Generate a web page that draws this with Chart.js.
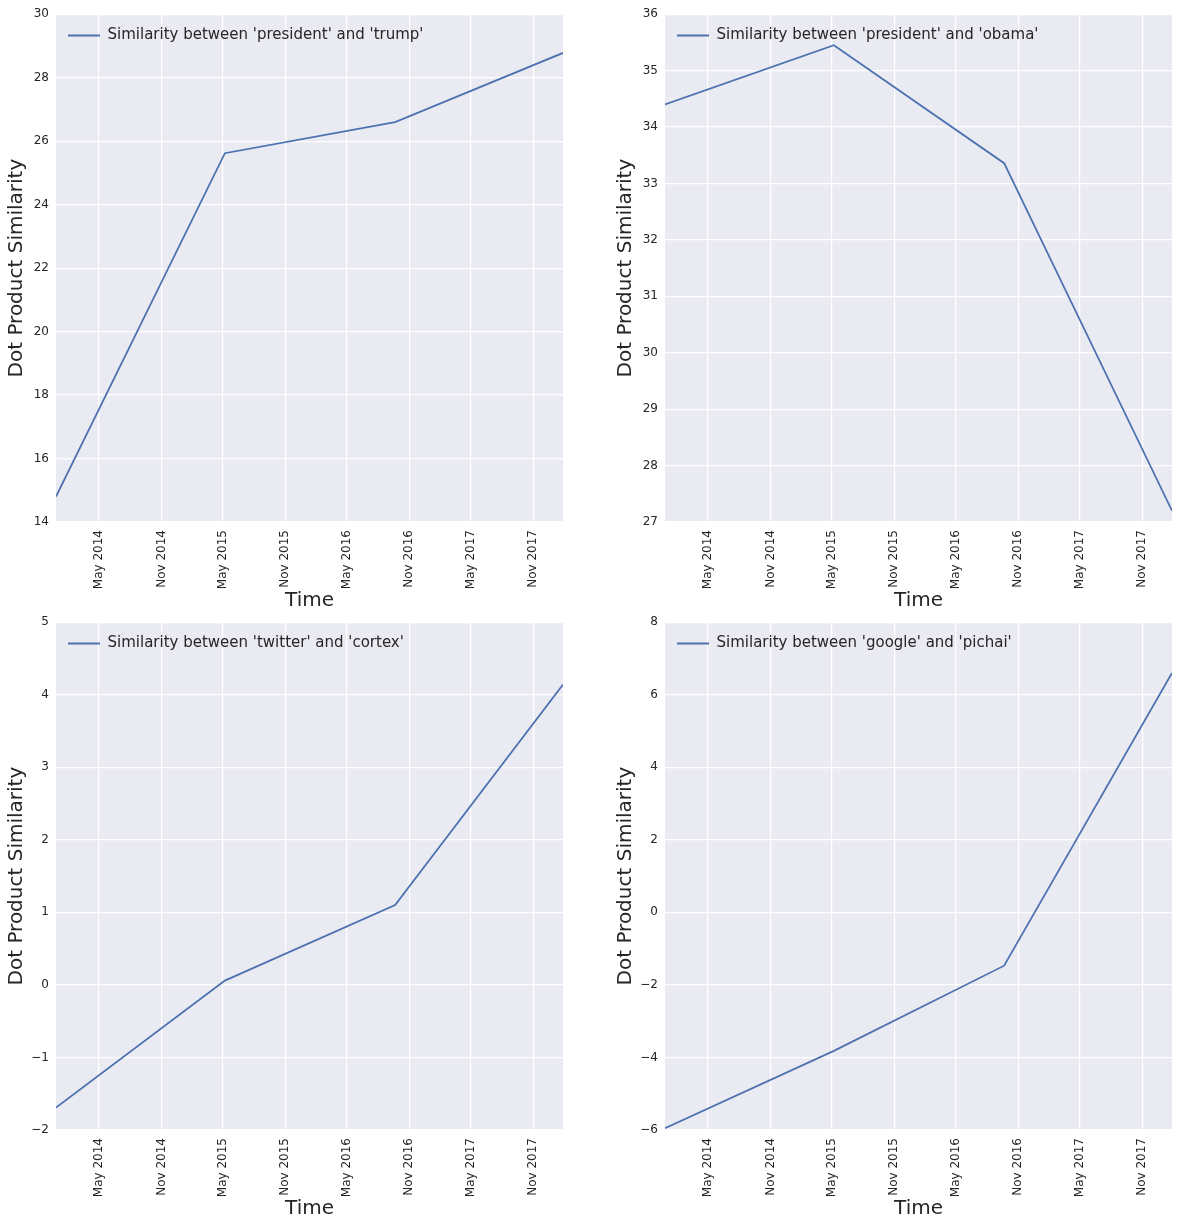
<!DOCTYPE html>
<html>
<head>
<meta charset="utf-8">
<script src="https://cdn.jsdelivr.net/npm/chart.js@4/dist/chart.umd.min.js"></script>
<style>
  html, body { margin: 0; padding: 0; background: #fff; overflow: hidden; }
  .panel { position: absolute; width: 570px; height: 612px; }
</style>
</head>
<body>
<div class="panel" style="left:0;top:0"><canvas id="c1"></canvas></div>
<div class="panel" style="left:609px;top:0"><canvas id="c2"></canvas></div>
<div class="panel" style="left:0;top:608px"><canvas id="c3"></canvas></div>
<div class="panel" style="left:609px;top:608px"><canvas id="c4"></canvas></div>
<script>
// sample dates (one point per period)
const dates = ['2013-12-25', '2015-05-07', '2016-09-20', '2018-01-28'];

const trumpValues  = [14.8, 25.62, 26.6, 28.78];
const obamaValues  = [34.4, 35.45, 33.36, 27.2];
const cortexValues = [-1.69, 0.06, 1.1, 4.14];
const pichaiValues = [-5.95, -3.82, -1.47, 6.6];

const tickDates  = ['2014-05-01', '2014-11-01', '2015-05-01', '2015-11-01',
                    '2016-05-01', '2016-11-01', '2017-05-01', '2017-11-01'];
const tickLabels = ['May 2014', 'Nov 2014', 'May 2015', 'Nov 2015',
                    'May 2016', 'Nov 2016', 'May 2017', 'Nov 2017'];

const toMs = d => Date.parse(d + 'T00:00:00Z');
const xs = dates.map(toMs);
const tickMs = tickDates.map(toMs);

const FONT = "'DejaVu Sans', sans-serif";
const TEXT = '#262626';

// seaborn darkgrid face
const bgPlugin = {
  id: 'bg',
  beforeDraw(chart) {
    const a = chart.chartArea, ctx = chart.ctx;
    ctx.save();
    ctx.fillStyle = '#EAEAF2';
    ctx.fillRect(a.left, a.top, a.right - a.left, a.bottom - a.top);
    ctx.restore();
  }
};

// push the in-axes legend down a bit, like matplotlib's upper left
const legendShift = {
  id: 'legendShift',
  afterLayout(chart) {
    const l = chart.legend;
    if (l) { l.top += 16; l.bottom += 16; }
  }
};

function makeChart(id, label, values, yMin, yMax, yStep) {
  new Chart(document.getElementById(id), {
    type: 'line',
    data: {
      datasets: [{
        label: label,
        data: xs.map((x, i) => ({ x: x, y: values[i] })),
        borderColor: '#4C72B0',
        backgroundColor: '#4C72B0',
        borderWidth: 1.8,
        pointRadius: 0,
        tension: 0
      }]
    },
    options: {
      responsive: true,
      maintainAspectRatio: false,
      animation: false,
      layout: { padding: { top: 14, right: 7, left: 0, bottom: 0 } },
      plugins: {
        tooltip: { enabled: false },
        legend: {
          position: 'chartArea',
          align: 'start',
          labels: {
            usePointStyle: true,
            pointStyle: 'line',
            pointStyleWidth: 32,
            padding: 12,
            color: TEXT,
            font: { family: FONT, size: 15 }
          }
        }
      },
      scales: {
        x: {
          type: 'linear',
          min: xs[0],
          max: xs[xs.length - 1],
          afterBuildTicks(scale) {
            scale.ticks = tickMs.map(v => ({ value: v }));
          },
          afterFit(scale) { scale.height = 90; },
          ticks: {
            autoSkip: false,
            minRotation: 90,
            maxRotation: 90,
            padding: 8,
            color: TEXT,
            font: { family: FONT, size: 12 },
            callback: function(value) {
              const i = tickMs.indexOf(value);
              return i >= 0 ? tickLabels[i] : '';
            }
          },
          grid: { color: '#ffffff', lineWidth: 1.2, drawTicks: false },
          border: { display: false },
          title: {
            display: true,
            text: 'Time',
            color: TEXT,
            font: { family: FONT, size: 20 },
            padding: { top: 0, bottom: -1 }
          }
        },
        y: {
          min: yMin,
          max: yMax,
          afterFit(scale) { scale.width = 56; },
          ticks: {
            stepSize: yStep,
            padding: 7,
            color: TEXT,
            font: { family: FONT, size: 12 },
            callback: v => String(v).replace('-', '\u2212')
          },
          grid: { color: '#ffffff', lineWidth: 1.2, drawTicks: false },
          border: { display: false },
          title: {
            display: true,
            text: 'Dot Product Similarity',
            color: TEXT,
            font: { family: FONT, size: 20 },
            padding: { top: 5, bottom: 0 }
          }
        }
      }
    },
    plugins: [bgPlugin, legendShift]
  });
}

makeChart('c1', "Similarity between 'president' and 'trump'", trumpValues, 14, 30, 2);
makeChart('c2', "Similarity between 'president' and 'obama'", obamaValues, 27, 36, 1);
makeChart('c3', "Similarity between 'twitter' and 'cortex'", cortexValues, -2, 5, 1);
makeChart('c4', "Similarity between 'google' and 'pichai'", pichaiValues, -6, 8, 2);
</script>
</body>
</html>
